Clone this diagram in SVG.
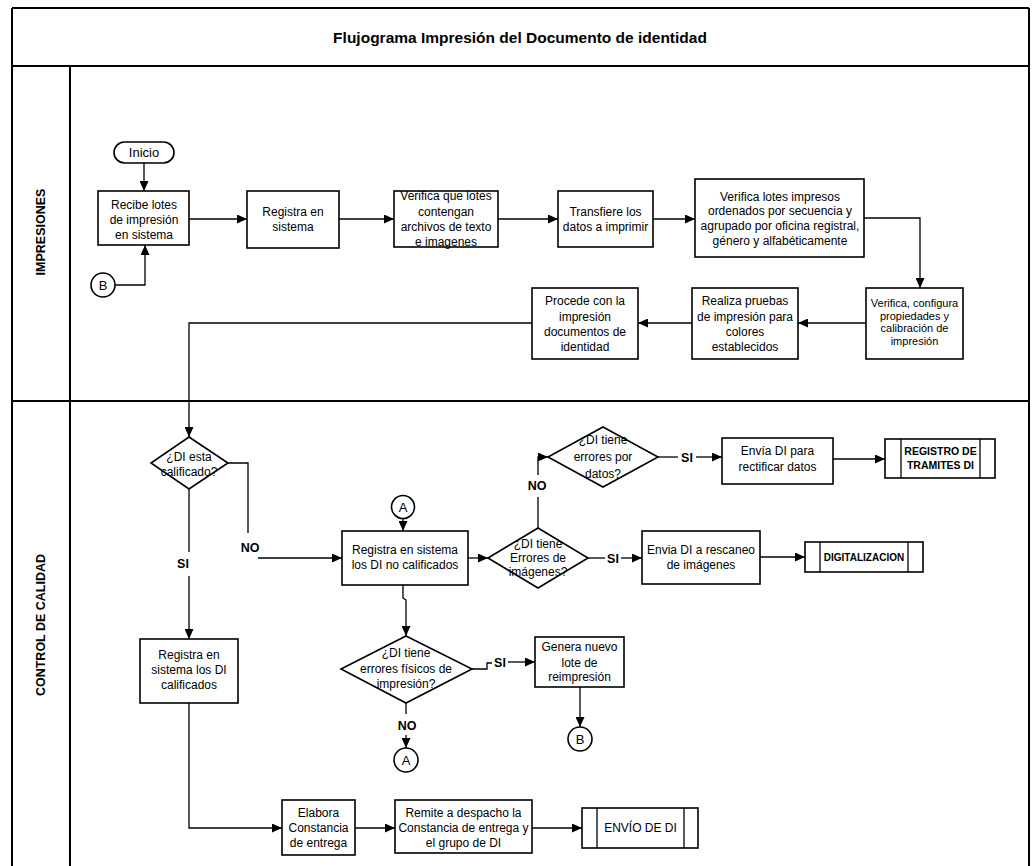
<svg xmlns="http://www.w3.org/2000/svg" width="1035" height="866" viewBox="0 0 1035 866">
<defs>
<marker id="ah" markerUnits="userSpaceOnUse" markerWidth="10" markerHeight="9" refX="10" refY="4.5" orient="auto">
<path d="M0,0 L10,4.5 L0,9 z" fill="#000"/>
</marker>
<style>
text{font-family:"Liberation Sans",Arial,sans-serif;font-size:12px;text-anchor:middle;fill:#000}
.box{fill:#fff;stroke:#000;stroke-width:1.6}
.ln{fill:none;stroke:#000;stroke-width:1.3}
.arr{marker-end:url(#ah)}
.frame{fill:none;stroke:#000;stroke-width:2}
.lbl{font-weight:bold;font-size:12.5px}
.sm{font-size:11px}
.bsm{font-weight:bold;font-size:10.5px}
.lane{font-weight:bold;font-size:12.5px}
</style>
</defs>
<rect width="1035" height="866" fill="#fff"/>
<g id="frame">
<line class="frame" x1="12" y1="8" x2="1029" y2="8"/>
<line class="frame" x1="12" y1="66" x2="1029" y2="66"/>
<line class="frame" x1="12" y1="8" x2="12" y2="866"/>
<line class="frame" x1="1029" y1="8" x2="1029" y2="866"/>
<line class="frame" x1="70" y1="66" x2="70" y2="866"/>
<line class="frame" x1="12" y1="401" x2="1029" y2="401"/>
<text x="520" y="43" style="font-weight:bold;font-size:15.5px">Flujograma Impresión del Documento de identidad</text>
<text class="lane" transform="translate(45,232) rotate(-90)">IMPRESIONES</text>
<text class="lane" transform="translate(45,625) rotate(-90)">CONTROL DE CALIDAD</text>
</g>
<g id="connectors">
<line class="ln arr" x1="144" y1="163" x2="144" y2="191"/>
<polyline class="ln arr" points="115,285 145,285 145,245"/>
<line class="ln arr" x1="189" y1="219" x2="247" y2="219"/>
<line class="ln arr" x1="339" y1="219" x2="394" y2="219"/>
<line class="ln arr" x1="498" y1="219" x2="558" y2="219"/>
<line class="ln arr" x1="653" y1="219" x2="695" y2="219"/>
<polyline class="ln arr" points="864,218 920,218 920,288"/>
<line class="ln arr" x1="866" y1="323" x2="798" y2="323"/>
<line class="ln arr" x1="692" y1="323" x2="638" y2="323"/>
<polyline class="ln arr" points="532,323 189,323 189,437"/>
<polyline class="ln" points="228,463 248,463 248,533"/>
<line class="ln arr" x1="258" y1="558" x2="342" y2="558"/>
<line class="ln" x1="189" y1="489" x2="189" y2="552"/>
<line class="ln arr" x1="189" y1="576" x2="189" y2="639"/>
<polyline class="ln arr" points="189,703 189,828 282,828"/>
<line class="ln arr" x1="355" y1="828" x2="395" y2="828"/>
<line class="ln arr" x1="532" y1="828" x2="582" y2="828"/>
<line class="ln arr" x1="403" y1="518" x2="403" y2="531"/>
<line class="ln arr" x1="468" y1="558" x2="488" y2="558"/>
<line class="ln" x1="588" y1="558" x2="605" y2="558"/>
<line class="ln arr" x1="621" y1="558" x2="642" y2="558"/>
<line class="ln arr" x1="760" y1="557" x2="805" y2="557"/>
<line class="ln" x1="538" y1="528" x2="538" y2="497"/>
<polyline class="ln arr" points="538,475 538,457 548,457"/>
<line class="ln" x1="658" y1="457" x2="678" y2="457"/>
<line class="ln arr" x1="696" y1="457" x2="722" y2="457"/>
<line class="ln arr" x1="833" y1="459" x2="885" y2="459"/>
<polyline class="ln arr" points="403,585 403,598 406,600 406,636"/>
<polyline class="ln" points="472,669 487,669 487,663 492,663"/>
<line class="ln arr" x1="508" y1="662" x2="535" y2="662"/>
<line class="ln arr" x1="580" y1="687" x2="580" y2="727"/>
<line class="ln" x1="406" y1="703" x2="406" y2="714"/>
<line class="ln arr" x1="406" y1="735" x2="406" y2="748"/>
<text class="lbl" x="250" y="552">NO</text>
<text class="lbl" x="183" y="568">SI</text>
<text class="lbl" x="613" y="563">SI</text>
<text class="lbl" x="537" y="490">NO</text>
<text class="lbl" x="687" y="462">SI</text>
<text class="lbl" x="500" y="667">SI</text>
<text class="lbl" x="407" y="730">NO</text>
</g>
<g id="inicio">
<rect class="box" x="114" y="142" width="60" height="21" rx="10.5"/>
<text x="144" y="157" style="font-size:13px">Inicio</text>
</g>
<g id="recibe">
<rect class="box" x="98" y="191" width="91" height="54"/>
<text x="144" y="209">Recibe lotes</text>
<text x="144" y="224">de impresión</text>
<text x="144" y="239">en sistema</text>
</g>
<g id="connB1">
<circle class="box" cx="103" cy="285" r="12"/>
<text x="103" y="290" style="font-size:13px">B</text>
</g>
<g id="registra">
<rect class="box" x="247" y="191" width="92" height="57"/>
<text x="293" y="216">Registra en</text>
<text x="293" y="231">sistema</text>
</g>
<g id="verifica-lotes">
<rect class="box" x="394" y="191" width="104" height="56"/>
<text x="446" y="200">Verifica que lotes</text>
<text x="446" y="216">contengan</text>
<text x="446" y="231">archivos de texto</text>
<text x="446" y="246">e imagenes</text>
</g>
<g id="transfiere">
<rect class="box" x="558" y="191" width="95" height="56"/>
<text x="605.5" y="216">Transfiere los</text>
<text x="605.5" y="231">datos a imprimir</text>
</g>
<g id="verifica-impresos">
<rect class="box" x="695" y="179" width="169" height="78"/>
<text x="780" y="201">Verifica lotes impresos</text>
<text x="780" y="215">ordenados por secuencia y</text>
<text x="780" y="230">agrupado por oficina registral,</text>
<text x="780" y="245">género  y alfabéticamente</text>
</g>
<g id="verifica-configura">
<rect class="box" x="866" y="288" width="97" height="71"/>
<text class="sm" x="914.5" y="307">Verifica, configura</text>
<text class="sm" x="914.5" y="320">propiedades y</text>
<text class="sm" x="914.5" y="332">calibración de</text>
<text class="sm" x="914.5" y="345">impresión</text>
</g>
<g id="realiza">
<rect class="box" x="692" y="288" width="106" height="71"/>
<text x="745" y="305">Realiza pruebas</text>
<text x="745" y="321">de impresión para</text>
<text x="745" y="336">colores</text>
<text x="745" y="351">establecidos</text>
</g>
<g id="procede">
<rect class="box" x="532" y="288" width="106" height="71"/>
<text x="585" y="305">Procede con la</text>
<text x="585" y="321">impresión</text>
<text x="585" y="336">documentos de</text>
<text x="585" y="351">identidad</text>
</g>
<g id="dec-calificado">
<polygon class="box" points="189,437 228,463 189,489 151,463"/>
<text x="189" y="461">¿DI esta</text>
<text x="189" y="476">calificado?</text>
</g>
<g id="registra-calificados">
<rect class="box" x="140" y="639" width="98" height="64"/>
<text x="189" y="659">Registra  en</text>
<text x="189" y="674">sistema los DI</text>
<text x="189" y="689">calificados</text>
</g>
<g id="elabora">
<rect class="box" x="282" y="800" width="73" height="55"/>
<text x="318.5" y="817">Elabora</text>
<text x="318.5" y="832">Constancia</text>
<text x="318.5" y="847">de entrega</text>
</g>
<g id="remite">
<rect class="box" x="395" y="800" width="137" height="53"/>
<text x="463.5" y="817">Remite a despacho la</text>
<text x="463.5" y="832">Constancia de entrega y</text>
<text x="463.5" y="847">el grupo de DI</text>
</g>
<g id="envio">
<rect class="box" x="582" y="808" width="116" height="40"/>
<line class="ln" x1="597" y1="808" x2="597" y2="848"/>
<line class="ln" x1="684" y1="808" x2="684" y2="848"/>
<text x="640.5" y="832">ENVÍO DE DI</text>
</g>
<g id="connA1">
<circle class="box" cx="403" cy="507" r="11.5"/>
<text x="403" y="512" style="font-size:13px">A</text>
</g>
<g id="registra-no-calificados">
<rect class="box" x="342" y="531" width="126" height="54"/>
<text x="405" y="554">Registra en sistema</text>
<text x="405" y="569">los DI no calificados</text>
</g>
<g id="dec-imagenes">
<polygon class="box" points="538,528 588,558 538,588 488,558"/>
<text x="538" y="548">¿DI tiene</text>
<text x="538" y="562">Errores de</text>
<text x="538" y="576">imágenes?</text>
</g>
<g id="rescaneo">
<rect class="box" x="642" y="531" width="118" height="53"/>
<text x="701" y="554">Envia DI a rescaneo</text>
<text x="701" y="569">de imágenes</text>
</g>
<g id="digitalizacion">
<rect class="box" x="805" y="542" width="118" height="30"/>
<line class="ln" x1="820" y1="542" x2="820" y2="572"/>
<line class="ln" x1="908" y1="542" x2="908" y2="572"/>
<text x="864" y="561" style="font-weight:bold;font-size:10px">DIGITALIZACION</text>
</g>
<g id="dec-datos">
<polygon class="box" points="603,427 658,457 603,487 548,457"/>
<text x="603" y="444">¿DI tiene</text>
<text x="603" y="461">errores por</text>
<text x="603" y="478">datos?</text>
</g>
<g id="rectificar">
<rect class="box" x="722" y="438" width="111" height="46"/>
<text x="777.5" y="455">Envía DI  para</text>
<text x="777.5" y="471">rectificar datos</text>
</g>
<g id="registro-tramites">
<rect class="box" x="885" y="439" width="110" height="39"/>
<line class="ln" x1="901" y1="439" x2="901" y2="478"/>
<line class="ln" x1="980" y1="439" x2="980" y2="478"/>
<text class="bsm" x="940.5" y="455">REGISTRO DE</text>
<text class="bsm" x="940.5" y="469">TRAMITES DI</text>
</g>
<g id="dec-fisicos">
<polygon class="box" points="406,636 472,669 406,703 341,669"/>
<text x="406" y="657">¿DI tiene</text>
<text x="406" y="673">errores físicos de</text>
<text x="406" y="688">impresión?</text>
</g>
<g id="genera">
<rect class="box" x="535" y="637" width="89" height="50"/>
<text x="579.5" y="651">Genera nuevo</text>
<text x="579.5" y="667">lote de</text>
<text x="579.5" y="681">reimpresión</text>
</g>
<g id="connB2">
<circle class="box" cx="580" cy="739" r="12"/>
<text x="580" y="744" style="font-size:13px">B</text>
</g>
<g id="connA2">
<circle class="box" cx="406" cy="760" r="12"/>
<text x="406" y="765" style="font-size:13px">A</text>
</g>
</svg>
